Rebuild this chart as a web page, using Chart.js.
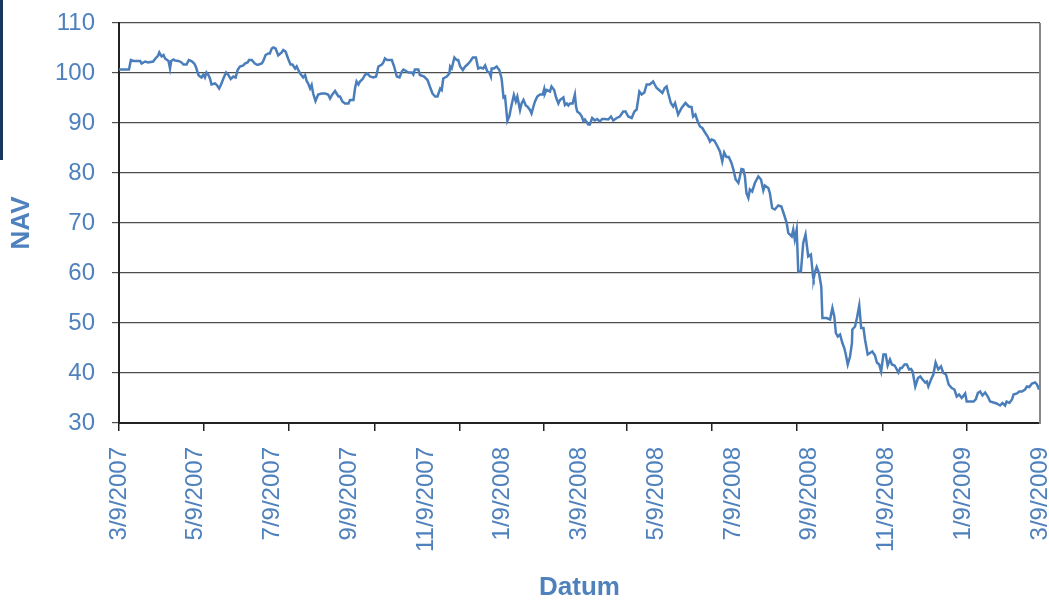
<!DOCTYPE html>
<html lang="nl">
<head>
<meta charset="UTF-8">
<title>NAV</title>
<script src="https://cdn.jsdelivr.net/npm/chart.js"></script>
<style>
  body { margin: 0; background: #fff; }
  #wrap { position: relative; width: 1049px; height: 601px; }
  #edge { position: absolute; left: 0; top: 0; width: 3px; height: 160px; background: #17375e; }
</style>
</head>
<body>
<div id="wrap">
  <canvas id="chart" width="1049" height="601"></canvas>
  <div id="edge"></div>
</div>
<script>
// x is in months since 3/9/2007, labels every 2 months
const tickLabels = ['3/9/2007', '5/9/2007', '7/9/2007', '9/9/2007', '11/9/2007', '1/9/2008',
  '3/9/2008', '5/9/2008', '7/9/2008', '9/9/2008', '11/9/2008', '1/9/2009', '3/9/2009'];
// excel puts its tick marks off the label grid
const tickMarks = [0, 2.21, 4.43, 6.67, 8.89, 11.07, 13.24, 15.45, 17.67, 19.91, 22.10];

const months = [
  // mar - sep 2007
  0, 0.26, 0.31, 0.37, 0.55, 0.59, 0.68, 0.76, 0.89, 0.94,
  1.02, 1.05, 1.11, 1.16, 1.20, 1.29, 1.33, 1.36, 1.42, 1.46,
  1.55, 1.63, 1.68, 1.76, 1.82, 1.89, 1.96, 2.00, 2.07, 2.11,
  2.15, 2.20, 2.24, 2.28, 2.33, 2.37, 2.41, 2.50, 2.55, 2.61,
  2.66, 2.72, 2.79, 2.85, 2.91, 2.98, 3.04, 3.09, 3.15, 3.24,
  3.28, 3.35, 3.39, 3.46, 3.54, 3.61, 3.72, 3.76, 3.82, 3.89,
  3.93, 3.98, 4.02, 4.08, 4.15, 4.24, 4.28, 4.34, 4.41, 4.47,
  4.52, 4.59, 4.63, 4.69, 4.74, 4.80, 4.85, 4.89, 4.93, 4.98,
  5.02, 5.06, 5.12, 5.19, 5.28, 5.37, 5.45, 5.50, 5.56, 5.63,
  5.67, 5.72, 5.76, 5.82, 5.89, 5.98,
  // sep 2007 - mar 2008
  6.02, 6.11, 6.15, 6.19, 6.24, 6.28, 6.35, 6.41, 6.47, 6.54,
  6.63, 6.70, 6.76, 6.85, 6.89, 6.93, 6.99, 7.11, 7.17, 7.24,
  7.31, 7.37, 7.41, 7.48, 7.54, 7.63, 7.67, 7.71, 7.80, 7.84,
  7.95, 8.04, 8.10, 8.17, 8.24, 8.30, 8.37, 8.41, 8.45, 8.54,
  8.61, 8.63, 8.67, 8.74, 8.80, 8.84, 8.89, 8.96, 9.02, 9.08,
  9.15, 9.22, 9.30, 9.36, 9.42, 9.49, 9.54, 9.60, 9.65, 9.69,
  9.71, 9.77, 9.84, 9.91, 9.97, 10.02, 10.06, 10.12, 10.17, 10.23,
  10.29, 10.34, 10.38, 10.45, 10.49, 10.54, 10.60, 10.64, 10.71, 10.75,
  10.80, 10.84, 10.90, 10.97, 11.04, 11.08, 11.10, 11.14, 11.23, 11.27,
  11.34, 11.39, 11.45, 11.49, 11.58, 11.62, 11.67, 11.71, 11.75, 11.82,
  11.88, 11.91, 11.94, 12.01, 12.06, 12.10,
  // mar - sep 2008
  12.14, 12.23, 12.27, 12.33, 12.40, 12.46, 12.53, 12.59, 12.66, 12.75,
  12.82, 12.88, 12.97, 13.05, 13.14, 13.20, 13.27, 13.36, 13.43, 13.49,
  13.56, 13.62, 13.69, 13.75, 13.83, 13.92, 13.96, 14.01, 14.09, 14.16,
  14.22, 14.27, 14.31, 14.38, 14.44, 14.49, 14.57, 14.66, 14.76, 14.85,
  14.92, 14.96, 15.02, 15.08, 15.14, 15.20, 15.27, 15.34, 15.40, 15.44,
  15.51, 15.57, 15.66, 15.72, 15.77, 15.83, 15.89, 15.96, 16.01, 16.07,
  16.14, 16.18, 16.22, 16.27, 16.31, 16.35, 16.40, 16.44, 16.50, 16.57,
  16.66, 16.73, 16.79, 16.83, 16.92, 16.96, 17.02, 17.09, 17.18, 17.26,
  17.33, 17.40, 17.44, 17.53, 17.57, 17.61, 17.66, 17.70, 17.77, 17.83,
  17.89, 17.96, 18.03, 18.09,
  // sep 2008 - mar 2009
  18.10, 18.14, 18.18, 18.24, 18.30, 18.33, 18.44, 18.53, 18.59, 18.64,
  18.68, 18.73, 18.79, 18.85, 18.90, 18.94, 18.99, 19.05, 19.10, 19.11,
  19.18, 19.23, 19.29, 19.34, 19.40, 19.44, 19.51, 19.57, 19.63, 19.70,
  19.75, 19.81, 19.86, 19.92, 19.98, 20.03, 20.09, 20.14, 20.21, 20.27,
  20.31, 20.36, 20.40, 20.47, 20.53, 20.59, 20.64, 20.68, 20.75, 20.82,
  20.88, 20.94, 21.01, 21.05, 21.09, 21.16, 21.22, 21.28, 21.35, 21.42,
  21.48, 21.55, 21.62, 21.70, 21.77, 21.83, 21.89, 21.96, 22.05, 22.09,
  22.18, 22.27, 22.33, 22.38, 22.44, 22.50, 22.57, 22.64, 22.70, 22.79,
  22.87, 22.96, 23.02, 23.09, 23.13, 23.20, 23.27, 23.31, 23.40, 23.46,
  23.53, 23.61, 23.66, 23.72, 23.79, 23.87, 23.92, 23.96, 24.00
];

const nav = [
  100.7, 100.7, 102.6, 102.4, 102.4, 101.9, 102.3, 102.1, 102.3, 102.8,
  103.5, 104.1, 103.3, 103.6, 102.9, 102.4, 100.9, 102.4, 102.7, 102.5,
  102.4, 102.1, 101.7, 101.7, 102.6, 102.4, 101.9, 101.3, 99.6, 99.3,
  99.1, 99.7, 99.1, 100.1, 99.6, 98.9, 97.7, 97.9, 97.6, 96.9,
  97.7, 98.9, 100.1, 99.6, 98.8, 99.3, 99.1, 100.6, 101.3, 101.5,
  101.9, 102.1, 102.6, 102.6, 101.9, 101.6, 101.9, 102.4, 103.6, 103.9,
  103.9, 104.9, 105.1, 104.9, 103.5, 104.1, 104.6, 104.3, 102.8, 101.7,
  101.7, 100.9, 101.3, 100.3, 99.7, 99.1, 99.6, 98.4, 97.9, 96.9,
  97.6, 95.9, 94.4, 95.7, 95.9, 95.9, 95.7, 94.9, 95.7, 96.4,
  95.9, 95.3, 95.3, 94.3, 93.9, 93.9,

  94.6, 94.6, 96.9, 98.3, 97.7, 98.3, 98.8, 99.6, 99.9, 99.3,
  99.1, 99.3, 101.3, 101.7, 102.1, 102.9, 102.6, 102.6, 101.3, 99.3,
  99.1, 100.3, 100.7, 100.4, 100.1, 100.1, 99.7, 100.7, 100.7, 99.6,
  99.3, 98.6, 97.3, 95.9, 95.3, 95.3, 96.9, 96.6, 98.9, 99.3,
  99.9, 101.3, 100.9, 103.1, 102.6, 102.6, 101.3, 100.6, 101.3, 101.7,
  102.3, 103.1, 103.1, 100.9, 101.1, 100.9, 101.5, 100.3, 100.1, 99.3,
  100.9, 100.9, 101.3, 100.6, 98.9, 95.1, 95.3, 90.4, 91.3, 93.6,
  95.6, 94.3, 95.3, 92.6, 93.9, 94.6, 93.5, 93.3, 92.6, 91.9,
  93.3, 94.3, 95.3, 95.7, 95.7, 96.8, 95.9, 96.6, 96.3, 97.3,
  96.6, 95.1, 93.9, 94.6, 95.1, 93.6, 93.9, 93.5, 93.9, 93.9,
  95.7, 93.3, 92.3, 91.9, 91.3, 90.4,

  90.7, 89.7, 89.7, 91.0, 90.5, 90.8, 90.3, 90.8, 90.8, 90.7,
  91.3, 90.5, 91.0, 91.3, 92.3, 92.3, 91.3, 91.0, 92.3, 92.7,
  96.3, 95.7, 96.1, 97.7, 97.7, 98.3, 97.7, 97.0, 96.5, 96.0,
  97.0, 97.3, 96.0, 94.0, 93.3, 94.0, 91.7, 93.0, 94.0, 93.3,
  93.2, 91.3, 91.7, 90.3, 89.3, 89.0, 88.1, 87.3, 86.3, 86.7,
  86.5, 85.7, 84.3, 82.3, 84.1, 83.2, 83.2, 82.0, 80.7, 78.7,
  78.0, 79.3, 80.8, 80.7, 79.3, 76.0, 75.0, 76.7, 76.3, 78.0,
  79.3, 78.7, 76.5, 77.5, 77.0, 76.0, 73.0, 72.7, 73.5, 73.3,
  71.7, 70.0, 68.0, 67.3, 68.7, 66.7, 68.7, 60.3, 60.3, 66.0,
  67.7, 63.3, 63.7, 59.0,

  58.8, 60.3, 61.2, 60.0, 57.3, 51.0, 51.0, 50.7, 53.0, 51.3,
  48.0, 47.3, 47.7, 46.0, 45.0, 43.7, 41.7, 43.3, 46.0, 48.7,
  49.3, 51.0, 53.5, 49.0, 49.0, 46.7, 43.7, 44.0, 44.3, 43.5,
  42.1, 41.7, 40.3, 43.7, 43.7, 41.5, 42.7, 41.7, 41.5, 40.7,
  40.1, 41.0, 41.0, 41.7, 41.7, 40.7, 40.8, 40.3, 37.3, 39.0,
  39.3, 38.7, 38.1, 38.3, 37.3, 38.7, 39.7, 42.1, 40.7, 41.3,
  40.0, 39.7, 37.7, 37.0, 36.7, 35.3, 35.7, 35.0, 35.9, 34.3,
  34.3, 34.3, 34.8, 36.0, 36.3, 35.5, 36.1, 35.3, 34.3, 34.1,
  33.9, 33.5, 34.0, 33.5, 34.3, 34.0, 34.7, 35.7, 35.9, 36.3,
  36.3, 36.7, 37.3, 37.2, 37.9, 38.1, 37.7, 37.0, 37.3
];

const blue = '#4f81bd';
const fam = "'Liberation Sans', Arial, sans-serif";

// right edge of the plot box
const frame = {
  id: 'frame',
  afterDraw(chart) {
    const a = chart.chartArea, c = chart.ctx;
    c.save();
    c.strokeStyle = '#878787';
    c.lineWidth = 2;
    c.beginPath();
    c.moveTo(a.right, a.top);
    c.lineTo(a.right, a.bottom + 1);
    c.stroke();
    c.restore();
  }
};

// scales ask for extra room for their end labels; keep the box where excel had it
function noPad(s) {
  s.paddingLeft = 0; s.paddingRight = 0; s.paddingTop = 0; s.paddingBottom = 0;
}

new Chart(document.getElementById('chart'), {
  type: 'line',
  data: {
    datasets: [{
      data: months.map((m, i) => ({ x: m, y: nav[i] })),
      borderColor: '#4a7ebb',
      borderWidth: 2.5,
      pointRadius: 0,
      tension: 0,
      fill: false
    }]
  },
  options: {
    responsive: false,
    animation: false,
    devicePixelRatio: 1,
    layout: { padding: { top: 23, right: 9, left: 0, bottom: 0 } },
    plugins: { legend: { display: false }, tooltip: { enabled: false } },
    scales: {
      x: {
        type: 'linear', min: 0, max: 24, weight: 1,
        afterBuildTicks: s => { s.ticks = tickLabels.map((t, i) => ({ value: i * 2 })); },
        afterFit: s => { s.height = 178; noPad(s); },
        ticks: {
          autoSkip: false, maxRotation: 90, minRotation: 90, padding: 24,
          color: blue, font: { family: fam, size: 24 },
          callback: v => tickLabels[Math.round(v / 2)]
        },
        grid: { display: false, drawTicks: false },
        border: { color: '#222', width: 2 },
        title: {
          display: true, text: 'Datum', color: blue,
          font: { family: fam, size: 26, weight: 'bold', lineHeight: 1 },
          padding: { top: 0, bottom: 0 }
        }
      },
      xt: {
        type: 'linear', position: 'bottom', min: 0, max: 24, weight: 0,
        afterBuildTicks: s => { s.ticks = tickMarks.map(v => ({ value: v })); },
        afterFit: s => { s.height = 0; noPad(s); },
        ticks: { display: false },
        grid: { drawOnChartArea: false, tickLength: 8, color: '#222', lineWidth: 1.5 },
        border: { display: false }
      },
      y: {
        min: 30, max: 110,
        afterFit: s => { s.width = 119; noPad(s); },
        ticks: { stepSize: 10, padding: 17, color: blue, font: { family: fam, size: 24 } },
        grid: { color: '#4d4d4d', lineWidth: 1.2, tickLength: 7 },
        border: { color: '#222', width: 2 },
        title: {
          display: true, text: 'NAV', color: blue,
          font: { family: fam, size: 26, weight: 'bold', lineHeight: 1 },
          padding: { top: 9, bottom: 0 }
        }
      }
    }
  },
  plugins: [frame]
});
</script>
</body>
</html>
